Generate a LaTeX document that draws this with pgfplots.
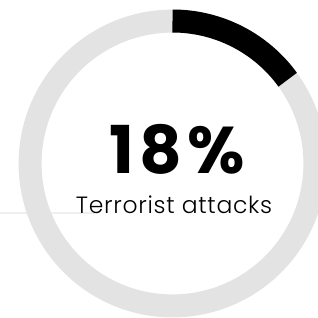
\documentclass[border=0pt]{standalone}
\usepackage{pgfplots}
\usepackage{pgfplotstable}
\pgfplotsset{compat=1.18}
\usepackage{fontspec}
\setmainfont{Poppins}
\newfontfamily\poplight[LetterSpace=3]{Poppins Light}
\newfontfamily\popbold[LetterSpace=8]{Poppins Bold}
\definecolor{ringgray}{HTML}{E3E3E3}
\definecolor{faint}{HTML}{EFEFEF}
\pgfplotstableread{
label value
share 15
rest 85
}\donutdata
\begin{document}
\begin{tikzpicture}
\pgfplotstablegetelem{0}{value}\of\donutdata
\pgfmathsetmacro{\endangle}{90-3.6*\pgfplotsretval}
\begin{axis}[
  at={(0pt,0pt)}, anchor=south west,
  width=318pt, height=317pt, scale only axis,
  xmin=0, xmax=318, ymin=0, ymax=317,
  hide axis, clip=true,
]
% faint background line
\draw[faint, line width=1.2pt] (axis cs:0,104) -- (axis cs:95,104);
% full ring
\draw[ringgray, line width=23pt] (axis cs:172.5,153.5) circle [radius=142.4pt];
% highlighted share
\draw[black, line width=23pt] (axis cs:172.5,296) arc [start angle=90, end angle=\endangle, radius=142.4pt];
\node[anchor=base, font=\popbold\fontsize{66}{66}\selectfont] at (axis cs:177,144) {18\%};
\node[anchor=base, font=\poplight\fontsize{23.5}{23.5}\selectfont] at (axis cs:174,104) {Terrorist attacks};
\end{axis}
\pgfresetboundingbox
\path (0pt,0pt) rectangle (318pt,317pt);
\end{tikzpicture}
\end{document}
